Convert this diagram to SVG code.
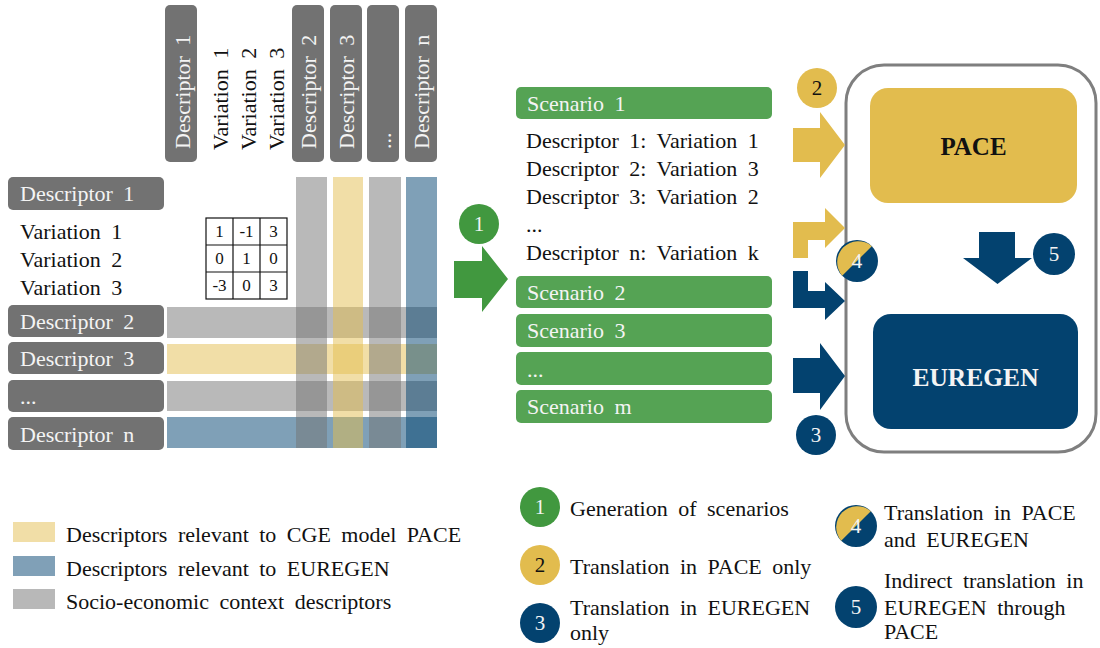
<svg xmlns="http://www.w3.org/2000/svg" width="1100" height="648" viewBox="0 0 1100 648" font-family="'Liberation Serif', 'Times New Roman', Times, 'DejaVu Serif', serif">
<style>
text{font-family:'Liberation Serif','Times New Roman',Times,'DejaVu Serif',serif;}
.t{font-size:22px;fill:#111;word-spacing:5px;}
.w{font-size:22px;fill:#f4f4f4;word-spacing:5px;}
.hdr{fill:#727272;}
.sc{fill:#55a354;}
.g{fill:#737373;opacity:0.5;}
.y{fill:#e3be4f;opacity:0.5;}
.b{fill:#00426f;opacity:0.5;}
.m{font-size:17px;fill:#111;text-anchor:middle;}
.cy{fill:#e2bc4e;}
.cb{fill:#03426f;}
.cg{fill:#41983f;}
.num{font-size:21px;text-anchor:middle;fill:#f4f4f4;}
</style>

<g id="row-bands">
<rect class="g" x="167" y="307" width="270" height="31"/>
<rect class="y" x="167" y="344" width="270" height="30"/>
<rect class="g" x="167" y="381" width="270" height="30"/>
<rect class="b" x="167" y="417" width="270" height="31"/>
</g>
<g id="col-bands">
<rect class="g" x="296" y="177" width="31" height="271"/>
<rect class="y" x="333" y="177" width="30" height="271"/>
<rect class="g" x="369" y="177" width="32" height="271"/>
<rect class="b" x="406" y="177" width="31" height="271"/>
</g>

<g id="col-d1"><rect class="hdr" x="165" y="5" width="32" height="157" rx="5"/><text class="w" transform="translate(190,149) rotate(-90)">Descriptor 1</text></g>
<g id="col-vars">
<text class="t" transform="translate(228,150) rotate(-90)">Variation 1</text>
<text class="t" transform="translate(256,150) rotate(-90)">Variation 2</text>
<text class="t" transform="translate(284,150) rotate(-90)">Variation 3</text>
</g>
<g id="col-d2"><rect class="hdr" x="292" y="5" width="32" height="157" rx="5"/><text class="w" transform="translate(316,149) rotate(-90)">Descriptor 2</text></g>
<g id="col-d3"><rect class="hdr" x="330" y="5" width="32" height="157" rx="5"/><text class="w" transform="translate(354,149) rotate(-90)">Descriptor 3</text></g>
<g id="col-dots"><rect class="hdr" x="367" y="5" width="32" height="157" rx="5"/><text class="w" transform="translate(391,149) rotate(-90)">...</text></g>
<g id="col-dn"><rect class="hdr" x="405" y="5" width="32" height="157" rx="5"/><text class="w" transform="translate(429,149) rotate(-90)">Descriptor n</text></g>

<g id="row-d1"><rect class="hdr" x="8" y="177" width="156" height="33" rx="5"/><text class="w" x="20" y="201">Descriptor 1</text></g>
<g id="row-vars">
<text class="t" x="20" y="239">Variation 1</text>
<text class="t" x="20" y="267">Variation 2</text>
<text class="t" x="20" y="295">Variation 3</text>
</g>
<g id="row-d2"><rect class="hdr" x="8" y="305" width="156" height="32" rx="5"/><text class="w" x="20" y="329">Descriptor 2</text></g>
<g id="row-d3"><rect class="hdr" x="8" y="342" width="156" height="32" rx="5"/><text class="w" x="20" y="366">Descriptor 3</text></g>
<g id="row-dots"><rect class="hdr" x="8" y="380" width="156" height="32" rx="5"/><text class="w" x="20" y="404">...</text></g>
<g id="row-dn"><rect class="hdr" x="8" y="417" width="156" height="33" rx="5"/><text class="w" x="20" y="442">Descriptor n</text></g>

<g id="matrix">
<rect x="206" y="218" width="81" height="81" fill="#fff" stroke="#111" stroke-width="1.2"/>
<path d="M233 218V299M260 218V299M206 245H287M206 272H287" stroke="#111" stroke-width="1.2" fill="none"/>
<text class="m" x="219.5" y="237">1</text><text class="m" x="246.5" y="237">-1</text><text class="m" x="273.5" y="237">3</text>
<text class="m" x="219.5" y="264">0</text><text class="m" x="246.5" y="264">1</text><text class="m" x="273.5" y="264">0</text>
<text class="m" x="219.5" y="291">-3</text><text class="m" x="246.5" y="291">0</text><text class="m" x="273.5" y="291">3</text>
</g>

<g id="scenario1"><rect class="sc" x="516" y="87" width="256" height="32" rx="5"/><text class="w" x="527" y="111">Scenario 1</text></g>
<g id="scenario1-detail">
<text class="t" x="526" y="148">Descriptor 1: Variation 1</text>
<text class="t" x="526" y="176">Descriptor 2: Variation 3</text>
<text class="t" x="526" y="204">Descriptor 3: Variation 2</text>
<text class="t" x="526" y="232">...</text>
<text class="t" x="526" y="260">Descriptor n: Variation k</text>
</g>
<g id="scenario2"><rect class="sc" x="516" y="276" width="256" height="32" rx="5"/><text class="w" x="527" y="300">Scenario 2</text></g>
<g id="scenario3"><rect class="sc" x="516" y="314" width="256" height="33" rx="5"/><text class="w" x="527" y="338">Scenario 3</text></g>
<g id="scenario-dots"><rect class="sc" x="516" y="352" width="256" height="33" rx="5"/><text class="w" x="527" y="377">...</text></g>
<g id="scenariom"><rect class="sc" x="516" y="390" width="256" height="33" rx="5"/><text class="w" x="527" y="414">Scenario m</text></g>

<g id="models">
<rect x="846" y="65" width="250" height="387" rx="38" fill="#fff" stroke="#7f7f7f" stroke-width="3"/>
</g>
<g id="pace"><rect class="cy" x="870" y="88" width="207" height="115" rx="18"/><text x="973.5" y="155" font-size="25" font-weight="bold" text-anchor="middle" fill="#111">PACE</text></g>
<g id="euregen"><rect class="cb" x="873" y="314" width="205" height="115" rx="18"/><text x="975.5" y="386" font-size="25.5" font-weight="bold" text-anchor="middle" fill="#f4f4f4">EUREGEN</text></g>

<g id="connectors">
<polygon class="cg" points="454,261 482,261 482,246 508,279 482,312 482,298 454,298"/>
<polygon class="cy" points="793,128 820,128 820,112 845,145 820,178 820,162 793,162"/>
<polygon class="cy" points="793,258 793,222 825,222 825,208 845,228 825,248 825,240 808,240 808,258"/>
<polygon class="cb" points="793,271 808,271 808,291 825,291 825,282 845,301 825,320 825,308 793,308"/>
<polygon class="cb" points="793,358 820,358 820,343 845,376 820,410 820,393 793,393"/>
<polygon class="cb" points="979,232 1015,232 1015,258 1032,258 997.5,284 963,258 979,258"/>
</g>

<g id="badge1"><circle class="cg" cx="479" cy="224" r="20"/><text class="num" x="479" y="231">1</text></g>
<g id="badge2"><circle class="cy" cx="817" cy="88" r="20"/><text class="num" x="817" y="95" style="fill:#111">2</text></g>
<g id="badge3"><circle class="cb" cx="816" cy="435" r="20"/><text class="num" x="816" y="442">3</text></g>
<g id="badge4"><circle class="cb" cx="857" cy="261" r="21"/><path class="cy" d="M842.2 275.8A21 21 0 0 1 871.8 246.2Z"/><text class="num" x="857" y="268">4</text></g>
<g id="badge5"><circle class="cb" cx="1054" cy="254" r="21"/><text class="num" x="1054" y="261">5</text></g>

<g id="legend-colors">
<rect x="13" y="522" width="42" height="20" fill="#f1dea7"/>
<text class="t" x="66" y="542">Descriptors relevant to CGE model PACE</text>
<rect x="13" y="556" width="42" height="20" fill="#80a0b7"/>
<text class="t" x="66" y="576">Descriptors relevant to EUREGEN</text>
<rect x="13" y="589" width="42" height="20" fill="#b8b8b8"/>
<text class="t" x="66" y="609">Socio-economic context descriptors</text>
</g>

<g id="legend-steps">
<circle class="cg" cx="540" cy="507" r="20"/><text class="num" x="540" y="514">1</text>
<text class="t" x="570" y="516">Generation of scenarios</text>
<circle class="cy" cx="540" cy="565" r="20"/><text class="num" x="540" y="572" style="fill:#111">2</text>
<text class="t" x="570" y="574">Translation in PACE only</text>
<circle class="cb" cx="540" cy="623" r="20"/><text class="num" x="540" y="630">3</text>
<text class="t" x="570" y="615">Translation in EUREGEN</text>
<text class="t" x="570" y="640">only</text>
<circle class="cb" cx="856" cy="526" r="21"/><path class="cy" d="M841.2 540.8A21 21 0 0 1 870.8 511.2Z"/><text class="num" x="856" y="533">4</text>
<text class="t" x="884" y="520">Translation in PACE</text>
<text class="t" x="884" y="547">and EUREGEN</text>
<circle class="cb" cx="856" cy="607" r="21"/><text class="num" x="856" y="614">5</text>
<text class="t" x="884" y="588">Indirect translation in</text>
<text class="t" x="884" y="615">EUREGEN through</text>
<text class="t" x="884" y="639">PACE</text>
</g>
</svg>
